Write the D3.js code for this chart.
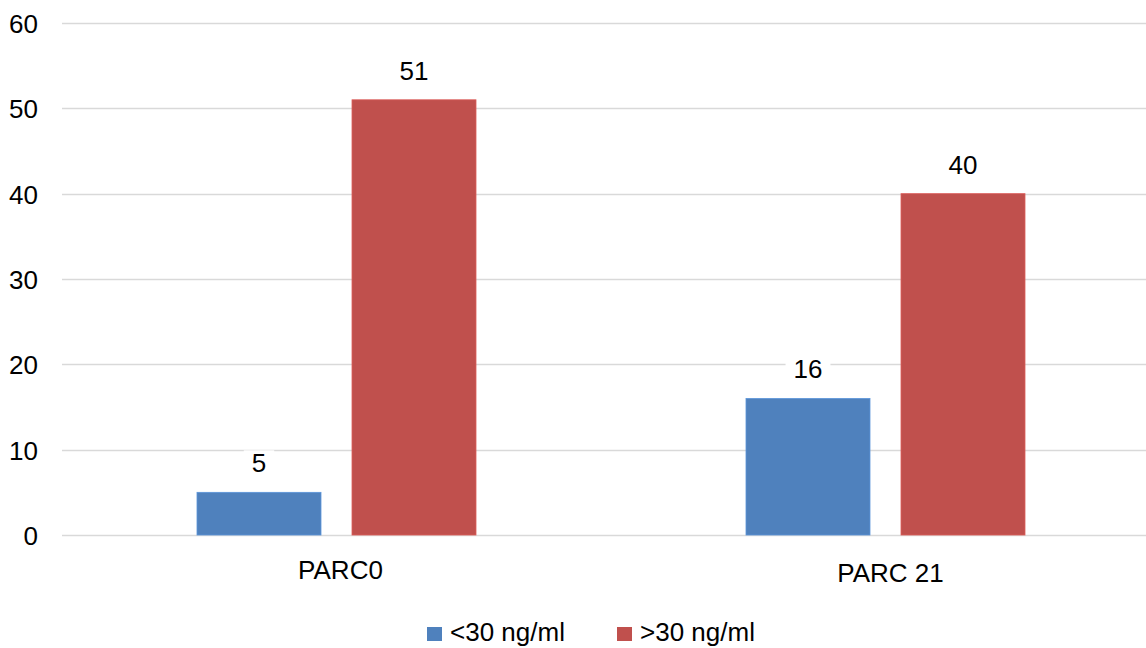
<!DOCTYPE html>
<html>
<head>
<meta charset="utf-8">
<script src="https://cdn.jsdelivr.net/npm/d3@7"></script>
<style>
  html, body { margin: 0; padding: 0; background: #fff; }
  svg { display: block; font-family: "Liberation Sans", Arial, sans-serif; }
</style>
</head>
<body>
<svg id="chart" width="1146" height="648"></svg>
<script>
// Chart data
const categories = ["PARC0", "PARC 21"];
const seriesNames = ["<30 ng/ml", ">30 ng/ml"];
const seriesColors = ["#4F81BD", "#C0504D"];
const lowValues = [5, 16];    // <30 ng/ml
const highValues = [51, 40];  // >30 ng/ml
const yTicks = [0, 10, 20, 30, 40, 50, 60];

const series = [lowValues, highValues];

const svg = d3.select("#chart");
const plot = { left: 62, right: 1160, top: 23, bottom: 535 };
const fontSize = 26;

const y = d3.scaleLinear().domain([0, 60]).range([plot.bottom, plot.top]);
const x = d3.scaleBand().domain(categories).range([plot.left, plot.right]);
const groupWidth = 279;
const xInner = d3.scaleBand()
  .domain(d3.range(series.length))
  .range([0, groupWidth])
  .paddingInner(0.2);

// gridlines
svg.append("g")
  .selectAll("line")
  .data(yTicks)
  .join("line")
  .attr("x1", plot.left)
  .attr("x2", 1146)
  .attr("y1", d => Math.round(y(d)) + 0.5)
  .attr("y2", d => Math.round(y(d)) + 0.5)
  .attr("stroke", "#d9d9d9")
  .attr("stroke-width", 1.5);

// y-axis tick labels
const yAxis = d3.axisLeft(y).tickValues(yTicks).tickSize(0).tickPadding(0);
const yg = svg.append("g").attr("transform", "translate(38,0)").call(yAxis);
yg.select(".domain").remove();
yg.selectAll("text")
  .attr("font-size", fontSize)
  .attr("font-family", "'Liberation Sans', Arial, sans-serif")
  .attr("fill", "#000")
  .attr("dy", "0.36em");

// bars
const groups = svg.append("g")
  .selectAll("g")
  .data(categories)
  .join("g")
  .attr("transform", d => `translate(${x(d) + (x.bandwidth() - groupWidth) / 2},0)`);

groups.each(function(cat, ci) {
  const g = d3.select(this);
  series.forEach((vals, si) => {
    const v = vals[ci];
    const bx = xInner(si);
    const bw = xInner.bandwidth();
    g.append("rect")
      .attr("x", bx)
      .attr("y", y(v))
      .attr("width", bw)
      .attr("height", y(0) - y(v))
      .attr("fill", seriesColors[si])
      .attr("stroke", d3.color(seriesColors[si]).brighter(0.4))
      .attr("stroke-width", 0.8);

    // value label with white backing
    const ty = y(v) - 20;
    const label = String(v);
    const tw = label.length * fontSize * 0.556;
    g.append("rect")
      .attr("x", bx + bw / 2 - tw / 2 - 8)
      .attr("y", ty - 22)
      .attr("width", tw + 16)
      .attr("height", 30)
      .attr("fill", "#fff");
    g.append("text")
      .attr("x", bx + bw / 2)
      .attr("y", ty)
      .attr("text-anchor", "middle")
      .attr("font-size", fontSize)
      .attr("fill", "#000")
      .text(label);
  });
});

// category labels
const catOffsets = [{ dx: 4, y: 579 }, { dx: 5, y: 582 }];
svg.append("g")
  .selectAll("text")
  .data(categories)
  .join("text")
  .attr("x", (d, i) => x(d) + x.bandwidth() / 2 + catOffsets[i].dx)
  .attr("y", (d, i) => catOffsets[i].y)
  .attr("text-anchor", "middle")
  .attr("font-size", fontSize)
  .attr("fill", "#000")
  .text(d => d);

// legend
const legendX = [427, 617];
const legend = svg.append("g")
  .selectAll("g")
  .data(seriesNames)
  .join("g")
  .attr("transform", (d, i) => `translate(${legendX[i]},0)`);
legend.append("rect")
  .attr("x", 0)
  .attr("y", 627)
  .attr("width", 15)
  .attr("height", 14)
  .attr("fill", (d, i) => seriesColors[i]);
legend.append("text")
  .attr("x", 23)
  .attr("y", 641)
  .attr("font-size", fontSize)
  .attr("fill", "#000")
  .text(d => d);
</script>
</body>
</html>
